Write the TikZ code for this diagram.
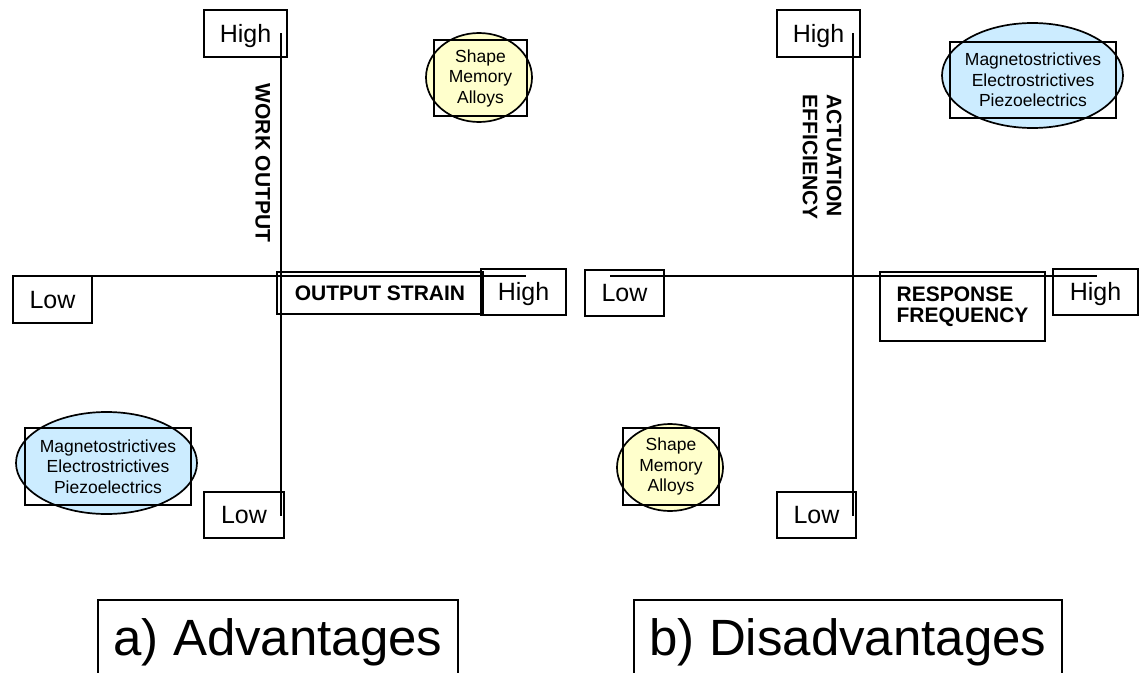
\documentclass[tikz,border=0pt]{standalone}
\usepackage{fontspec}
\setmainfont{Liberation Sans}
\usetikzlibrary{shapes.geometric}

\definecolor{smafill}{HTML}{FFFFCC}
\definecolor{magfill}{HTML}{CCECFF}

\tikzset{
  frame/.style 2 args={draw, inner sep=0pt, minimum width=#1, minimum height=#2},
  level/.style={font=\fontsize{25}{29}\selectfont, text height=17.9pt, text depth=0pt},
  axlabel/.style={font=\fontsize{21}{24}\selectfont\bfseries, inner sep=0pt},
  capcentre/.style={text height=15pt, text depth=0pt},
  matlabel/.style={align=center, font=\fontsize{17.5}{20.5}\selectfont},
  blob/.style={ellipse, draw, line width=1.7pt, inner sep=0pt},
  axis/.style={draw, line width=1.4pt},
  caption/.style={draw, inner sep=0pt, font=\fontsize{51}{56}\selectfont, text height=36.5pt, text depth=0pt}
}

\begin{document}
\begin{tikzpicture}[x=1pt, y=-1pt, line width=1.3pt]
\useasboundingbox (0,0) rectangle (1140,672);
\clip (0,0) rectangle (1140,672);

% ---------- panel a: advantages ----------
\node[frame={83pt}{47pt}, level] (aHighT) at (245.5,33.5) {High};
\node[frame={80pt}{46pt}, level] (aLowB) at (244,515) {Low};
\node[frame={79pt}{47pt}, level] (aLowL) at (52.5,299.5) {Low};
\node[frame={206pt}{42pt}, axlabel, capcentre] (aStrain) at (380,293) {OUTPUT STRAIN};
\node[frame={85pt}{46pt}, level] (aHighR) at (523.5,292) {High};

\coordinate (aN) at (281,33);
\coordinate (aS) at (281,516);
\coordinate (aW) at (38,276);
\coordinate (aE) at (526,276);
\draw[axis] (aN) -- (aS);
\draw[axis] (aW) -- (aE);

\node[axlabel, rotate=-90, capcentre] (aWork) at (263,163) {WORK OUTPUT};

\node[blob, fill=smafill, minimum width=106pt, minimum height=89pt] (aSmaE) at (479,77.5) {};
\node[frame={93pt}{76pt}, matlabel] (aSma) at (480.5,78) {Shape\\Memory\\Alloys};

\node[blob, fill=magfill, minimum width=181pt, minimum height=102pt] (aMagE) at (106.5,463) {};
\node[frame={166pt}{77pt}, matlabel] (aMag) at (108,466.5) {Magnetostrictives\\Electrostrictives\\Piezoelectrics};

\node[caption, minimum width=360pt, minimum height=74pt] (aCap) at (278,637) {a) Advantages};

% ---------- panel b: disadvantages ----------
\node[frame={83pt}{47pt}, level] (bHighT) at (818.5,33.5) {High};
\node[frame={79pt}{46pt}, level] (bLowB) at (816.5,515) {Low};
\node[frame={79pt}{46pt}, level] (bLowL) at (624.5,293) {Low};
\node[frame={165pt}{69pt}, axlabel, align=left, font=\fontsize{21}{21.5}\selectfont\bfseries] (bResp) at (962.5,306.5) {RESPONSE\\FREQUENCY};
\node[frame={85pt}{46pt}, level] (bHighR) at (1095.5,292) {High};

\coordinate (bN) at (853,33);
\coordinate (bS) at (853,516);
\coordinate (bW) at (610,276);
\coordinate (bE) at (1097,276);
\draw[axis] (bN) -- (bS);
\draw[axis] (bW) -- (bE);

\node[axlabel, rotate=-90, align=left] (bEff) at (822,157) {ACTUATION\\EFFICIENCY};

\node[blob, fill=magfill, minimum width=181pt, minimum height=105pt] (bMagE) at (1032.5,75.5) {};
\node[frame={166pt}{76pt}, matlabel] (bMag) at (1033,80) {Magnetostrictives\\Electrostrictives\\Piezoelectrics};

\node[blob, fill=smafill, minimum width=106pt, minimum height=87pt] (bSmaE) at (670,467.5) {};
\node[frame={96pt}{77pt}, matlabel] (bSma) at (671,466.5) {Shape\\Memory\\Alloys};

\node[caption, minimum width=428pt, minimum height=74pt] (bCap) at (848,637) {b) Disadvantages};
\end{tikzpicture}
\end{document}
